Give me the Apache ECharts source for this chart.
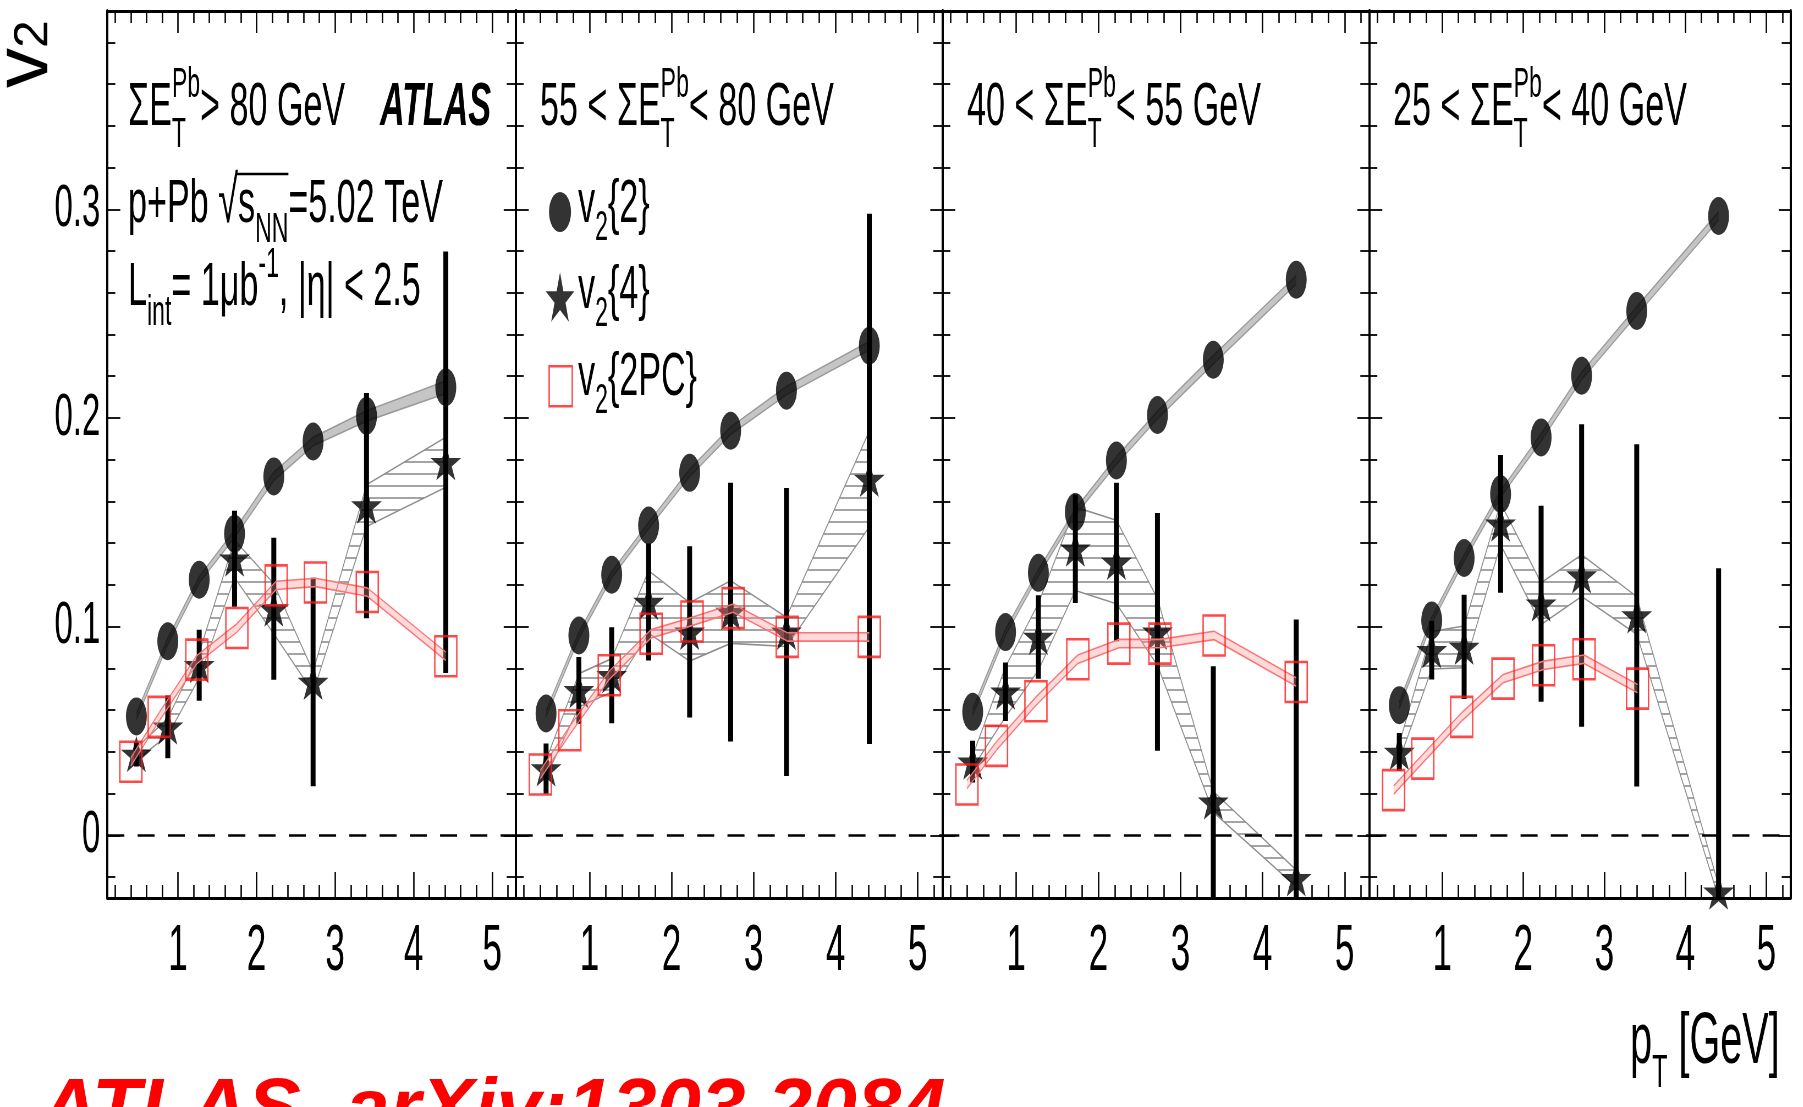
<!DOCTYPE html>
<html>
<head>
<meta charset="utf-8">
<script src="https://cdn.jsdelivr.net/npm/echarts@6/dist/echarts.min.js"></script>
<style>
  html, body { margin: 0; padding: 0; background: #fff; overflow: hidden; }
  #chart { position: absolute; left: 0; top: 0; height: 1107px; transform-origin: 0 0; }
</style>
</head>
<body>
<div id="chart"></div>
<script>
// The figure is drawn on a wide canvas and squeezed horizontally by S,
// which gives the tall, narrow lettering and oval markers of the plot.
const S = 0.55;
const FONT = '"Liberation Sans", Arial, Helvetica, sans-serif';
const X = v => v / S;

// ---------- axes ----------
const xRange = [0.1, 5.3];
const yRange = [-0.03, 0.395];
const xMajor = [1, 2, 3, 4, 5];
const yMajor = [0, 0.1, 0.2, 0.3];
const xMinor = [];
for (let k = 1; k <= 26; k++) if (k % 5) xMinor.push(Math.round(k * 2) / 10);
const yMinor = [];
for (let k = -1; k <= 19; k++) if (k % 5) yMinor.push(Math.round(k * 2) / 100);

// ---------- pT of the measured points [GeV] ----------
const ptCumulant = [0.47, 0.87, 1.27, 1.72, 2.22, 2.72, 3.40, 4.41];
const pt2PC      = [0.40, 0.76, 1.24, 1.75, 2.25, 2.75, 3.41, 4.41];

// ---------- ΣE_T^Pb > 80 GeV ----------
const v22_gt80    = [0.057, 0.093, 0.1225, 0.1445, 0.172, 0.1887, 0.201, 0.2147];
const v22sys_gt80 = [0.0015, 0.0015, 0.0015, 0.0018, 0.002, 0.002, 0.0025, 0.003];
const v24_gt80    = [0.039, 0.052, 0.0815, 0.1325, 0.1086, 0.0735, 0.158, 0.1788];
const v24err_gt80 = [0.006, 0.015, 0.017, 0.023, 0.034, 0.05, 0.054, 0.101];
const v24sys_gt80 = [0.003, 0.004, 0.006, 0.009, 0.012, 0.005, 0.01, 0.012];
const v2pc_gt80   = [0.0353, 0.0568, 0.0842, 0.0994, 0.1198, 0.1212, 0.1166, 0.0858];
const v2pcsys_gt80= [0.002, 0.002, 0.002, 0.002, 0.002, 0.002, 0.002, 0.002];

// ---------- 55 < ΣE_T^Pb < 80 GeV ----------
const v22_55    = [0.0584, 0.0958, 0.1249, 0.1485, 0.1737, 0.1939, 0.2131, 0.2346];
const v22sys_55 = [0.0015, 0.0015, 0.0015, 0.0015, 0.0018, 0.0018, 0.002, 0.002];
const v24_55    = [0.032, 0.0695, 0.0767, 0.1118, 0.0975, 0.107, 0.0975, 0.1708];
const v24err_55 = [0.012, 0.016, 0.023, 0.028, 0.041, 0.062, 0.069, 0.127];
const v24sys_55 = [0.004, 0.008, 0.008, 0.015, 0.014, 0.015, 0.007, 0.023];
const v2pc_55   = [0.0292, 0.0504, 0.0767, 0.0966, 0.1025, 0.1089, 0.0951, 0.0951];
const v2pcsys_55= [0.002, 0.002, 0.002, 0.002, 0.002, 0.002, 0.002, 0.002];

// ---------- 40 < ΣE_T^Pb < 55 GeV ----------
const v22_40    = [0.0592, 0.0974, 0.1258, 0.1549, 0.1796, 0.2014, 0.2279, 0.2662];
const v22sys_40 = [0.0015, 0.0015, 0.0015, 0.0015, 0.0018, 0.0018, 0.002, 0.002];
const v24_40    = [0.0353, 0.0688, 0.0951, 0.1373, 0.131, 0.0975, 0.0161, -0.0206];
const v24err_40 = [0.010, 0.014, 0.020, 0.026, 0.038, 0.057, 0.065, 0.124];
const v24sys_40 = [0.003, 0.012, 0.016, 0.02, 0.02, 0.016, 0.005, 0.004];
const v2pc_40   = [0.0244, 0.0429, 0.0643, 0.0844, 0.0919, 0.0919, 0.0958, 0.0735];
const v2pcsys_40= [0.002, 0.002, 0.002, 0.002, 0.002, 0.002, 0.002, 0.002];

// ---------- 25 < ΣE_T^Pb < 40 GeV ----------
const v22_25    = [0.0624, 0.103, 0.1329, 0.1636, 0.1907, 0.2202, 0.2513, 0.2968];
const v22sys_25 = [0.0015, 0.0015, 0.0015, 0.0015, 0.0018, 0.0018, 0.002, 0.002];
const v24_25    = [0.040, 0.0887, 0.0903, 0.1493, 0.111, 0.1245, 0.1054, -0.027];
const v24err_25 = [0.009, 0.014, 0.025, 0.033, 0.047, 0.0725, 0.082, 0.155];
const v24sys_25 = [0.004, 0.009, 0.01, 0.01, 0.01, 0.01, 0.009, 0.003];
const v2pc_25   = [0.0217, 0.0368, 0.0568, 0.0751, 0.0815, 0.0844, 0.0703];
const v2pcsys_25= [0.002, 0.002, 0.002, 0.002, 0.002, 0.002, 0.002];

const panels = [
  { v22: v22_gt80, v22sys: v22sys_gt80, v24: v24_gt80, v24err: v24err_gt80, v24sys: v24sys_gt80, pc: v2pc_gt80, pcsys: v2pcsys_gt80 },
  { v22: v22_55,   v22sys: v22sys_55,   v24: v24_55,   v24err: v24err_55,   v24sys: v24sys_55,   pc: v2pc_55,   pcsys: v2pcsys_55 },
  { v22: v22_40,   v22sys: v22sys_40,   v24: v24_40,   v24err: v24err_40,   v24sys: v24sys_40,   pc: v2pc_40,   pcsys: v2pcsys_40 },
  { v22: v22_25,   v22sys: v22sys_25,   v24: v24_25,   v24err: v24err_25,   v24sys: v24sys_25,   pc: v2pc_25,   pcsys: v2pcsys_25 }
];

// frame edges of the four pads (page px)
const frameX = [107.3, 515.7, 942.3, 1369.3, 1790.7];
const frameTop = 11, frameBottom = 898;

const el = document.getElementById('chart');
el.style.width = Math.round(1803 / S) + 'px';
el.style.transform = 'scaleX(' + S + ')';
const chart = echarts.init(el, null, { renderer: 'canvas' });

// horizontal hatch used for the v2{4} systematic band
function makeHatch() {
  const c = document.createElement('canvas');
  c.width = 8; c.height = 12;
  const g = c.getContext('2d');
  g.strokeStyle = '#8e8e8e'; g.lineWidth = 1.6;
  g.beginPath(); g.moveTo(0, 6); g.lineTo(8, 6); g.stroke();
  return c;
}
const HATCH = { image: makeHatch(), repeat: 'repeat' };

const STAR = 'path://M50,0L61.2,34.5L97.6,34.5L68.2,55.9L79.4,90.5L50,69.1L20.6,90.5L31.8,55.9L2.4,34.5L38.8,34.5Z';

function clipOf(cs) {
  return { type: 'rect', shape: { x: cs.x, y: cs.y, width: cs.width, height: cs.height } };
}
function bandRender(fill, stroke, lw) {
  return function (params, api) {
    const a = api.coord([api.value(0), api.value(1)]);
    const b = api.coord([api.value(0), api.value(2)]);
    const c = api.coord([api.value(3), api.value(4)]);
    const d = api.coord([api.value(3), api.value(5)]);
    return {
      type: 'group', clipPath: clipOf(params.coordSys),
      children: [
        { type: 'polygon', shape: { points: [a, b, d, c] }, style: { fill: fill, stroke: 'none' } },
        { type: 'line', shape: { x1: b[0], y1: b[1], x2: d[0], y2: d[1] }, style: { stroke: stroke, lineWidth: lw } },
        { type: 'line', shape: { x1: a[0], y1: a[1], x2: c[0], y2: c[1] }, style: { stroke: stroke, lineWidth: lw } }
      ]
    };
  };
}
function errRender(params, api) {
  const p = api.coord([api.value(0), api.value(1)]);
  const q = api.coord([api.value(0), api.value(2)]);
  return {
    type: 'line', clipPath: clipOf(params.coordSys),
    shape: { x1: p[0], y1: p[1], x2: q[0], y2: q[1] },
    style: { stroke: '#000', lineWidth: 9 }
  };
}
function segments(pt, v, sys) {
  const out = [];
  for (let k = 0; k < v.length - 1; k++) {
    out.push([pt[k], v[k] - sys[k], v[k] + sys[k], pt[k + 1], v[k + 1] - sys[k + 1], v[k + 1] + sys[k + 1]]);
  }
  return out;
}
const SEG_DIMS = ['x1', 'lo1', 'hi1', 'x2', 'lo2', 'hi2'];
const SEG_ENC = { x: ['x1', 'x2'], y: ['lo1', 'hi1', 'lo2', 'hi2'] };

const grids = [], xAxes = [], yAxes = [], series = [];
panels.forEach((p, i) => {
  grids.push({
    left: X(frameX[i]), width: X(frameX[i + 1] - frameX[i]),
    top: frameTop, height: frameBottom - frameTop,
    show: false, containLabel: false, outerBoundsMode: 'none'
  });
  const xBase = { gridIndex: i, type: 'value', min: xRange[0], max: xRange[1], splitLine: { show: false } };
  const xLine = { show: true, onZero: false, lineStyle: { color: '#000', width: 3 } };
  const xTick = (vals, len) => ({ show: true, inside: true, customValues: vals, length: len, lineStyle: { color: '#000', width: 2.6 } });
  xAxes.push(
    Object.assign({}, xBase, { position: 'bottom', axisLine: xLine, axisTick: xTick(xMajor, 26),
      axisLabel: { show: true, customValues: xMajor, fontSize: 64, fontFamily: FONT, color: '#000', margin: 22 } }),
    Object.assign({}, xBase, { position: 'bottom', axisLine: { show: false, onZero: false }, axisTick: xTick(xMinor, 13), axisLabel: { show: false } }),
    Object.assign({}, xBase, { position: 'top', axisLine: xLine, axisTick: xTick(xMajor, 22), axisLabel: { show: false } }),
    Object.assign({}, xBase, { position: 'top', axisLine: { show: false, onZero: false }, axisTick: xTick(xMinor, 12), axisLabel: { show: false } })
  );
  const yBase = { gridIndex: i, type: 'value', min: yRange[0], max: yRange[1], splitLine: { show: false } };
  const yLine = { show: true, onZero: false, lineStyle: { color: '#000', width: 4 } };
  const yTick = (vals, len) => ({ show: true, inside: true, customValues: vals, length: len, lineStyle: { color: '#000', width: 1.8 } });
  yAxes.push(
    Object.assign({}, yBase, { position: 'left', axisLine: yLine, axisTick: yTick(yMajor, X(13)),
      axisLabel: { show: i === 0, customValues: yMajor, fontSize: 60, fontFamily: FONT, color: '#000', margin: X(7) } }),
    Object.assign({}, yBase, { position: 'left', axisLine: { show: false, onZero: false }, axisTick: yTick(yMinor, X(8)), axisLabel: { show: false } }),
    Object.assign({}, yBase, { position: 'right', axisLine: yLine, axisTick: yTick(yMajor, X(12)), axisLabel: { show: false } }),
    Object.assign({}, yBase, { position: 'right', axisLine: { show: false, onZero: false }, axisTick: yTick(yMinor, X(9)), axisLabel: { show: false } })
  );

  const ax = { xAxisIndex: 4 * i, yAxisIndex: 4 * i };
  const ptPC = pt2PC.slice(0, p.pc.length);
  series.push(
    Object.assign({ type: 'custom', name: 'v2{4} syst', z: 1, silent: true, renderItem: bandRender(HATCH, '#8e8e8e', 1.6),
      dimensions: SEG_DIMS, encode: SEG_ENC, data: segments(ptCumulant, p.v24, p.v24sys) }, ax),
    Object.assign({ type: 'custom', name: 'v2{2} syst', z: 2, silent: true, renderItem: bandRender('rgba(150,150,150,0.55)', '#9a9a9a', 1.6),
      dimensions: SEG_DIMS, encode: SEG_ENC, data: segments(ptCumulant, p.v22, p.v22sys) }, ax),
    Object.assign({ type: 'custom', name: 'v2{4} stat', z: 3, silent: true, renderItem: errRender,
      dimensions: ['x', 'lo', 'hi'], encode: { x: 'x', y: ['lo', 'hi'] },
      data: ptCumulant.map((x, k) => [x, p.v24[k] - p.v24err[k], p.v24[k] + p.v24err[k]]) }, ax),
    Object.assign({ type: 'scatter', name: 'v2{2}', z: 4, symbol: 'circle', symbolSize: [38, 38], itemStyle: { color: '#000' },
      data: ptCumulant.map((x, k) => [x, p.v22[k]]),
      markLine: { silent: true, symbol: ['none', 'none'], label: { show: false }, animation: false,
        lineStyle: { color: '#000', width: 2.6, type: [31, 24] }, data: [{ yAxis: 0 }] } }, ax),
    Object.assign({ type: 'scatter', name: 'v2{4}', z: 5, symbol: STAR, symbolSize: [56, 36], itemStyle: { color: '#000' },
      data: ptCumulant.map((x, k) => [x, p.v24[k]]) }, ax),
    Object.assign({ type: 'custom', name: 'v2{2PC} syst', z: 6, silent: true, renderItem: bandRender('rgba(255,150,150,0.35)', '#ff7272', 1.6),
      dimensions: SEG_DIMS, encode: SEG_ENC, data: segments(ptPC, p.pc, p.pcsys) }, ax),
    Object.assign({ type: 'scatter', name: 'v2{2PC}', z: 7, symbol: 'rect', symbolSize: [40, 40],
      itemStyle: { color: 'rgba(0,0,0,0)', borderColor: '#ff1a1a', borderWidth: 2.6 },
      data: ptPC.map((x, k) => [x, p.pc[k]]) }, ax)
  );
});

// ---------- text with sub/superscripts ----------
const mctx = document.createElement('canvas').getContext('2d');
function textWidth(t, size, weight, style) {
  mctx.font = (style || 'normal') + ' ' + (weight || 'normal') + ' ' + size + 'px ' + FONT;
  return mctx.measureText(t).width;
}
// lays out fragments along one baseline; returns elements and fragment extents
function run(parts, x, baseline) {
  const els = [], spans = [];
  let cur = x, lastStart = x;
  parts.forEach(p => {
    const size = p.size || 62, w = p.weight || 'normal', st = p.style || 'normal';
    const start = p.stack ? lastStart : cur;
    els.push({
      type: 'text', x: start, y: baseline + (p.dy || 0) - 0.35 * size, z: 20, silent: true,
      style: { text: p.t, fontSize: size, fontFamily: FONT, fontWeight: w, fontStyle: st,
        fill: p.color || '#000', align: 'left', verticalAlign: 'middle' }
    });
    const end = start + textWidth(p.t, size, w, st);
    spans.push([start, end]);
    cur = p.stack ? Math.max(cur, end) : end;
    lastStart = start;
  });
  return { els, spans };
}
const sub = (t, dy) => ({ t: t, size: 42, dy: dy === undefined ? 18 : dy });
const sup = (t, stack) => ({ t: t, size: 42, dy: -30, stack: !!stack });

const g = [];
const addRun = (parts, x, b) => { const r = run(parts, x, b); g.push(...r.els); return r; };

// pad headers
const ranges = [['', '> 80 GeV'], ['55 < ', '< 80 GeV'], ['40 < ', '< 55 GeV'], ['25 < ', '< 40 GeV']];
const headerX = [128, 540, 967, 1393];
ranges.forEach((r, i) => {
  addRun([{ t: r[0] + 'ΣE' }, sub('T', 20), sup('Pb', true), { t: r[1] }], X(headerX[i]), 130);
});
addRun([{ t: 'ATLAS', weight: 'bold', style: 'italic' }], X(380), 130);
const rs = addRun([{ t: 'p+Pb ' }, { t: '√', size: 66 }, { t: 's' }, sub('NN'), { t: '=5.02 TeV' }], X(128), 227);
g.push({ type: 'line', z: 20, silent: true,
  shape: { x1: rs.spans[1][1] - 4, y1: 174, x2: rs.spans[3][1], y2: 174 }, style: { stroke: '#000', lineWidth: 2.4 } });
addRun([{ t: 'L' }, sub('int'), { t: '= 1μb' }, sup('-1'), { t: ', |η| < 2.5' }], X(128), 310);

// legend labels
addRun([{ t: 'v' }, sub('2', 16), { t: '{2}' }], X(578), 227);
addRun([{ t: 'v' }, sub('2', 16), { t: '{4}' }], X(578), 313);
addRun([{ t: 'v' }, sub('2', 16), { t: '{2PC}' }], X(578), 400);

// axis titles
const yTitle = run([{ t: 'v', size: 80 }, { t: '2', size: 50, dy: -2 }], 0, 0);
g.push({ type: 'group', x: X(53), y: 88, rotation: Math.PI / 2, scaleY: 1.75, children: yTitle.els });
addRun([{ t: 'p', size: 72 }, { t: 'T', size: 46, dy: 22 }, { t: ' [GeV]', size: 72 }], X(1630), 1068);

// source note (kept at its natural width)
g.push({ type: 'text', x: X(40), y: 1112, scaleX: 1 / S, z: 20, silent: true,
  style: { text: 'ATLAS, arXiv:1303.2084', fontSize: 80, fontFamily: FONT, fontWeight: 'bold', fontStyle: 'italic',
    fill: '#ff0000', align: 'left', verticalAlign: 'middle' } });

const legendCommon = { orient: 'vertical', padding: 0, selectedMode: false, formatter: () => '', textStyle: { fontSize: 1 }, itemGap: 0 };
const option = {
  animation: false,
  backgroundColor: '#fff',
  grid: grids,
  xAxis: xAxes,
  yAxis: yAxes,
  legend: [
    Object.assign({}, legendCommon, { data: [{ name: 'v2{2}' }], left: X(560) - 20, top: 192, itemWidth: 40, itemHeight: 40 }),
    Object.assign({}, legendCommon, { data: [{ name: 'v2{4}' }], left: X(560) - 26, top: 272, itemWidth: 52, itemHeight: 50 }),
    Object.assign({}, legendCommon, { data: [{ name: 'v2{2PC}', itemStyle: { color: 'rgba(0,0,0,0)', borderColor: '#ff1a1a', borderWidth: 2.6 } }],
      left: X(560) - 21, top: 365, itemWidth: 42, itemHeight: 40 })
  ],
  series: series,
  graphic: { elements: g }
};
chart.setOption(option);
</script>
</body>
</html>
